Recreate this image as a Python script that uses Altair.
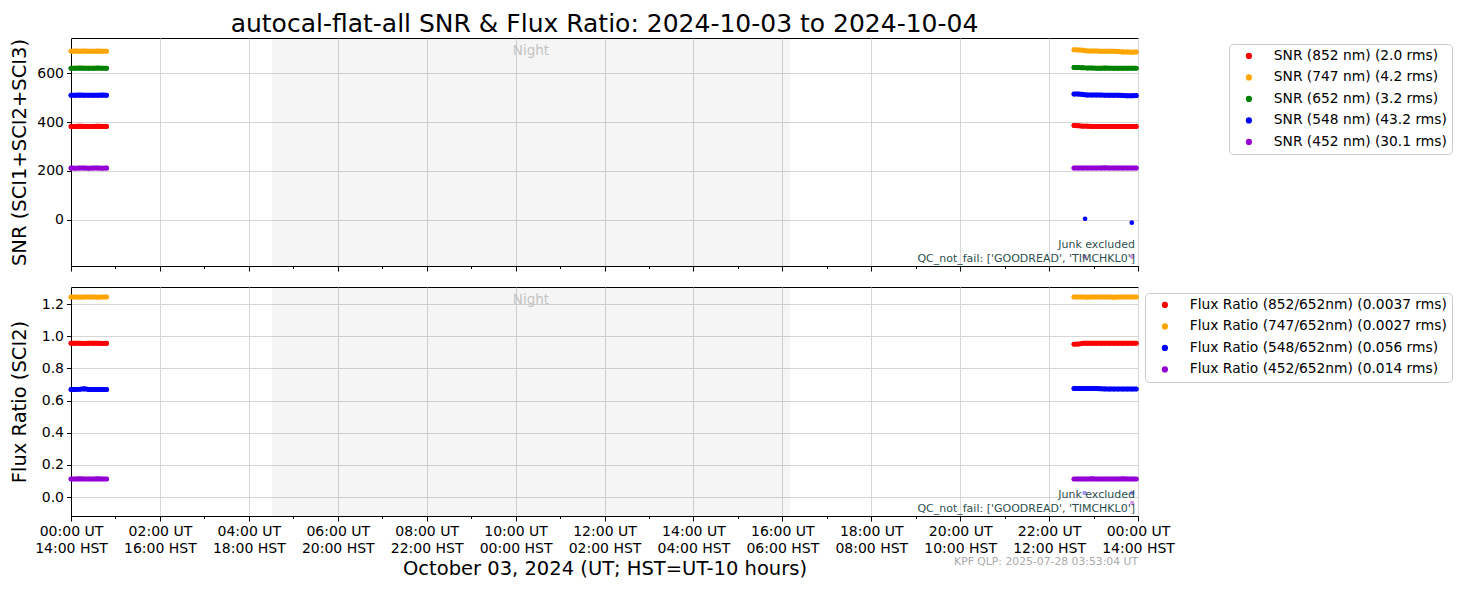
import altair as alt
import pandas as pd

# ---------------- data ----------------
hours = [0.0, 0.1, 0.2, 0.3, 0.4, 0.5, 0.6, 0.7, 0.8,
         22.56, 22.66, 22.76, 22.86, 22.96, 23.06, 23.16, 23.26, 23.36,
         23.46, 23.56, 23.66, 23.76, 23.86, 23.96]
segment = [0, 0, 0, 0, 0, 0, 0, 0, 0,
           1, 1, 1, 1, 1, 1, 1, 1, 1, 1, 1, 1, 1, 1, 1]

snr_labels = ["SNR (852 nm) (2.0 rms)", "SNR (747 nm) (4.2 rms)", "SNR (652 nm) (3.2 rms)",
              "SNR (548 nm) (43.2 rms)", "SNR (452 nm) (30.1 rms)"]
snr_colors = ["#ff0000", "#ffa500", "#008000", "#0000ff", "#9400d3"]

snr_852 = [382, 382, 383, 382, 382, 382, 383, 382, 382,
           386, 385, 383, 383, 382, 382, 382, 382, 382, 382, 382, 382, 382, 382, 382]
snr_747 = [689, 690, 689, 690, 689, 689, 690, 689, 689,
           695, 694, 693, 690, 690, 690, 689, 689, 689, 689, 688, 686, 686, 685, 686]
snr_652 = [619, 619, 620, 619, 619, 619, 620, 619, 619,
           623, 623, 622, 620, 620, 619, 619, 620, 619, 619, 619, 619, 619, 619, 619]
snr_548 = [509, 509, 510, 509, 509, 509, 509, 510, 509,
           514, 514, 512, 510, 510, 510, 510, 509, 509, 509, 509, 508, 507, 507, 508]
snr_452 = [212, 211, 212, 212, 211, 212, 212, 211, 212,
           212, 212, 212, 212, 212, 212, 212, 213, 212, 212, 212, 212, 212, 212, 212]

snr_out_hours = [22.81, 23.86]
snr_out_548 = [5, -11]
snr_faint_hours = [22.80, 23.87]
snr_faint_452 = [-150, -150]

flux_labels = ["Flux Ratio (852/652nm) (0.0037 rms)", "Flux Ratio (747/652nm) (0.0027 rms)",
               "Flux Ratio (548/652nm) (0.056 rms)", "Flux Ratio (452/652nm) (0.014 rms)"]
flux_colors = ["#ff0000", "#ffa500", "#0000ff", "#9400d3"]

flux_852 = [0.956, 0.956, 0.956, 0.955, 0.956, 0.956, 0.956, 0.955, 0.956,
            0.950, 0.951, 0.956, 0.956, 0.956, 0.956, 0.956, 0.956, 0.956, 0.956, 0.956, 0.956, 0.956, 0.956, 0.956]
flux_747 = [1.244, 1.244, 1.243, 1.244, 1.244, 1.244, 1.243, 1.244, 1.244,
            1.244, 1.244, 1.244, 1.243, 1.244, 1.244, 1.244, 1.244, 1.244, 1.243, 1.244, 1.244, 1.244, 1.244, 1.244]
flux_548 = [0.669, 0.669, 0.670, 0.673, 0.669, 0.669, 0.669, 0.669, 0.669,
            0.675, 0.675, 0.675, 0.675, 0.675, 0.675, 0.674, 0.672, 0.671, 0.671, 0.671, 0.671, 0.671, 0.671, 0.671]
flux_452 = [0.112, 0.112, 0.113, 0.112, 0.112, 0.112, 0.113, 0.112, 0.112,
            0.112, 0.112, 0.112, 0.112, 0.113, 0.112, 0.112, 0.112, 0.112, 0.112, 0.112, 0.113, 0.112, 0.112, 0.112]

flux_faint_hours = [22.80, 23.87, 23.87]
flux_faint_vals = [0.025, 0.025, -0.037]
flux_faint_series = [2, 2, 3]

night_start, night_end = 4.52, 16.17

title_text = "autocal-flat-all SNR & Flux Ratio: 2024-10-03 to 2024-10-04"
x_title = "October 03, 2024 (UT; HST=UT-10 hours)"
snr_ytitle = "SNR (SCI1+SCI2+SCI3)"
flux_ytitle = "Flux Ratio (SCI2)"
note1 = "Junk excluded"
note2 = "QC_not_fail: ['GOODREAD', 'TIMCHKL0']"
footer = "KPF QLP: 2025-07-28 03:53:04 UT"
tick_hours = list(range(0, 25))

# ---------------- tables ----------------
def long_df(labels, series):
    rows = []
    for lab, vals in zip(labels, series):
        for t, g, v in zip(hours, segment, vals):
            rows.append({"t": t, "v": v, "s": lab, "g": g})
    return pd.DataFrame(rows)

snr_main = long_df(snr_labels, [snr_852, snr_747, snr_652, snr_548, snr_452])
snr_pts = pd.concat([snr_main, pd.DataFrame({"t": snr_out_hours, "v": snr_out_548,
                                             "s": snr_labels[3], "g": 2})])
snr_faint = pd.DataFrame({"t": snr_faint_hours, "v": snr_faint_452, "s": snr_labels[4]})

flux_main = long_df(flux_labels, [flux_852, flux_747, flux_548, flux_452])
flux_faint = pd.DataFrame({"t": flux_faint_hours, "v": flux_faint_vals,
                           "s": [flux_labels[i] for i in flux_faint_series]})

night_df = pd.DataFrame({"t": [night_start], "t2": [night_end], "tm": [(night_start + night_end) / 2]})

# ---------------- chart ----------------
W = 1067
FONT = "DejaVu Sans"
even = "datum.value % 2 == 0"
x_scale = alt.Scale(domain=[0, 24], nice=False, zero=False)

label_expr = ("datum.value % 2 == 1 ? '' : ["
              "(datum.value % 24 < 10 ? '0' : '') + (datum.value % 24) + ':00 UT', "
              "((datum.value + 14) % 24 < 10 ? '0' : '') + ((datum.value + 14) % 24) + ':00 HST']")


def x_axis(show_labels):
    kw = dict(values=tick_hours,
              tickSize={"condition": {"test": even, "value": 5}, "value": 2.5},
              gridOpacity={"condition": {"test": even, "value": 1}, "value": 0},
              labelFlush=False, labelOverlap=False)
    if show_labels:
        kw.update(labels=True, labelExpr=label_expr, labelLineHeight=17, labelPadding=3,
                  titlePadding=4, titleFontSize=19.5)
    else:
        kw.update(labels=False)
    return alt.Axis(**kw)


def legend(lx, ly):
    return alt.Legend(title=None, orient="none", legendX=lx, legendY=ly,
                      strokeColor="#cccccc", fillColor="white", cornerRadius=4,
                      padding=5, symbolOffset=8, labelFont=FONT, labelFontSize=13.8,
                      labelColor="black", symbolType="circle", symbolSize=22,
                      symbolOpacity=1, rowPadding=6.5, labelOffset=18, labelLimit=500)


def panel(main_df, pts_df, faint_df, labels, colors, ydomain, yticks, yfmt, ytitle,
          show_xlabels, lx, ly, h):
    xenc = alt.X("t:Q", scale=x_scale, axis=x_axis(show_xlabels),
                 title=x_title if show_xlabels else None)
    yenc = alt.Y("v:Q", scale=alt.Scale(domain=ydomain, nice=False, zero=False),
                 axis=alt.Axis(values=yticks, format=yfmt, tickSize=4.5, labelPadding=3,
                               minExtent=36, titlePadding=6, titleFontSize=19.5, labelFlush=False),
                 title=ytitle)
    cscale = alt.Scale(domain=labels, range=colors)

    night = alt.Chart(night_df).mark_rect(color="black", opacity=0.04).encode(
        x=alt.X("t:Q", scale=x_scale, axis=x_axis(show_xlabels),
                title=x_title if show_xlabels else None),
        x2="t2:Q", y=alt.value(0), y2=alt.value(h))
    night_txt = alt.Chart(night_df).mark_text(
        text="Night", font=FONT, fontSize=13.5, color="#c4c4c4", baseline="middle").encode(
        x=alt.X("tm:Q", scale=x_scale), y=alt.value(13))
    pts = alt.Chart(pts_df).mark_circle(size=22, opacity=1).encode(
        x=xenc, y=yenc, color=alt.Color("s:N", scale=cscale, legend=legend(lx, ly)))
    lines = alt.Chart(main_df).mark_line(strokeWidth=5, strokeCap="round", opacity=1).encode(
        x=xenc, y=yenc, detail="g:N", color=alt.Color("s:N", scale=cscale, legend=None))
    faint = alt.Chart(faint_df).mark_circle(size=22, opacity=0.4).encode(
        x=xenc, y=yenc, color=alt.Color("s:N", scale=cscale, legend=None))
    n1 = alt.Chart(night_df).mark_text(text=note1, font=FONT, fontSize=11, color="#2f4f4f",
                                       align="right", baseline="alphabetic").encode(
        x=alt.value(W - 3), y=alt.value(h - 18))
    n2 = alt.Chart(night_df).mark_text(text=note2, font=FONT, fontSize=11, color="#2f4f4f",
                                       align="right", baseline="alphabetic").encode(
        x=alt.value(W - 3), y=alt.value(h - 4.5))
    layers = [night, night_txt, pts, lines, faint, n1, n2]
    if show_xlabels:
        ft = alt.Chart(night_df).mark_text(text=footer, font=FONT, fontSize=10.8, color="#aaaaaa",
                                           align="right", baseline="middle").encode(
            x=alt.value(W), y=alt.value(h + 46))
        layers.append(ft)
    return alt.layer(*layers).properties(width=W, height=h)


top = panel(snr_main, snr_pts, snr_faint, snr_labels, snr_colors, [-188, 743], [0, 200, 400, 600], "d",
            snr_ytitle, False, 1158, 6, 228).properties(
    title=alt.TitleParams(text=title_text, font=FONT, fontSize=25, fontWeight="normal",
                          color="black", anchor="middle", offset=1))
bottom = panel(flux_main, flux_main, flux_faint, flux_labels, flux_colors, [-0.118, 1.306],
               [0.0, 0.2, 0.4, 0.6, 0.8, 1.0, 1.2], ".1f", flux_ytitle, True, 1074, 6, 229)

chart = alt.vconcat(top, bottom, spacing=14).resolve_scale(
    y="independent", color="independent").resolve_legend(color="independent").properties(
    padding={"left": 0, "top": 3, "right": 0, "bottom": 0}
).configure_view(stroke="black", strokeWidth=1).configure_axis(
    domainColor="black", tickColor="black", labelColor="black", titleColor="black",
    gridColor="#d6d6d6", labelFont=FONT, titleFont=FONT, labelFontSize=14,
    titleFontWeight="normal", domain=True)

chart.save("out.html", embed_options={"renderer": "svg", "actions": False})
